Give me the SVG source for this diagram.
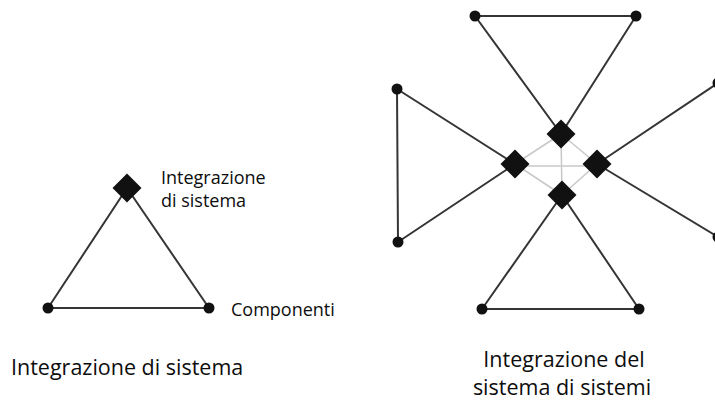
<svg xmlns="http://www.w3.org/2000/svg" width="715" height="401" viewBox="0 0 715 401">
  <style>
    .edge { stroke: #353535; stroke-width: 2; fill: none; stroke-linecap: round; }
    .link { stroke: #c8c8c8; stroke-width: 1.5; fill: none; }
    .comp { fill: #111111; }
    .integ { fill: #111111; }
    .lbl { font-family: "Open Sans", "Liberation Sans", sans-serif; fill: #0d0d0d; }
    .small { font-size: 18px; }
    .big { font-size: 21.5px; }
  </style>
  <defs>
    <circle id="dot" r="5.5" class="comp"/>
    <path id="dia" d="M0,-14.5 L14.5,0 L0,14.5 L-14.5,0 Z" class="integ"/>
  </defs>
  <rect width="715" height="401" fill="#ffffff"/>

  <!-- connectors -->
  <g id="connectors">
    <!-- single system triangle -->
    <line class="edge" x1="48" y1="308" x2="209" y2="308"/>
    <line class="edge" x1="48" y1="308" x2="127" y2="188"/>
    <line class="edge" x1="209" y1="308" x2="127" y2="188"/>

    <!-- inner links between integration points -->
    <line class="link" x1="561" y1="134" x2="515" y2="164"/>
    <line class="link" x1="561" y1="134" x2="597" y2="164"/>
    <line class="link" x1="562" y1="195" x2="515" y2="164"/>
    <line class="link" x1="562" y1="195" x2="597" y2="164"/>
    <line class="link" x1="515" y1="166" x2="597" y2="166"/>
    <line class="link" x1="561" y1="134" x2="562" y2="195"/>

    <!-- top triangle -->
    <line class="edge" x1="475" y1="16" x2="636" y2="16"/>
    <line class="edge" x1="475" y1="16" x2="561" y2="134"/>
    <line class="edge" x1="636" y1="16" x2="561" y2="134"/>
    <!-- left triangle -->
    <line class="edge" x1="397" y1="89" x2="398" y2="242"/>
    <line class="edge" x1="397" y1="89" x2="515" y2="164"/>
    <line class="edge" x1="398" y1="242" x2="515" y2="164"/>
    <!-- right triangle -->
    <line class="edge" x1="718" y1="83" x2="718" y2="237"/>
    <line class="edge" x1="718" y1="83" x2="597" y2="164"/>
    <line class="edge" x1="718" y1="237" x2="597" y2="164"/>
    <!-- bottom triangle -->
    <line class="edge" x1="482" y1="309" x2="639" y2="309"/>
    <line class="edge" x1="482" y1="309" x2="562" y2="195"/>
    <line class="edge" x1="639" y1="309" x2="562" y2="195"/>
  </g>

  <!-- single system -->
  <g id="sys-integration"><use href="#dia" x="127" y="188"/></g>
  <g id="sys-comp-left"><use href="#dot" x="48" y="308"/></g>
  <g id="sys-comp-right"><use href="#dot" x="209" y="308"/></g>

  <!-- system of systems -->
  <g id="sos-top-a"><use href="#dot" x="475" y="16"/></g>
  <g id="sos-top-b"><use href="#dot" x="636" y="16"/></g>
  <g id="sos-left-a"><use href="#dot" x="397" y="89"/></g>
  <g id="sos-left-b"><use href="#dot" x="398" y="242"/></g>
  <g id="sos-right-a"><use href="#dot" x="718" y="83"/></g>
  <g id="sos-right-b"><use href="#dot" x="718" y="237"/></g>
  <g id="sos-bottom-a"><use href="#dot" x="482" y="309"/></g>
  <g id="sos-bottom-b"><use href="#dot" x="639" y="309"/></g>
  <g id="sos-int-top"><use href="#dia" x="561" y="134"/></g>
  <g id="sos-int-left"><use href="#dia" x="515" y="164"/></g>
  <g id="sos-int-right"><use href="#dia" x="597" y="164"/></g>
  <g id="sos-int-bottom"><use href="#dia" x="562" y="195"/></g>

  <!-- labels -->
  <g id="labels">
    <text class="lbl small" x="161" y="184">Integrazione</text>
    <text class="lbl small" x="161" y="207">di sistema</text>
    <text class="lbl small" x="231" y="316">Componenti</text>
    <text class="lbl big" x="11" y="375">Integrazione di sistema</text>
    <text class="lbl big" x="564" y="367" text-anchor="middle">Integrazione del</text>
    <text class="lbl big" x="562" y="395" text-anchor="middle">sistema di sistemi</text>
  </g>
</svg>
